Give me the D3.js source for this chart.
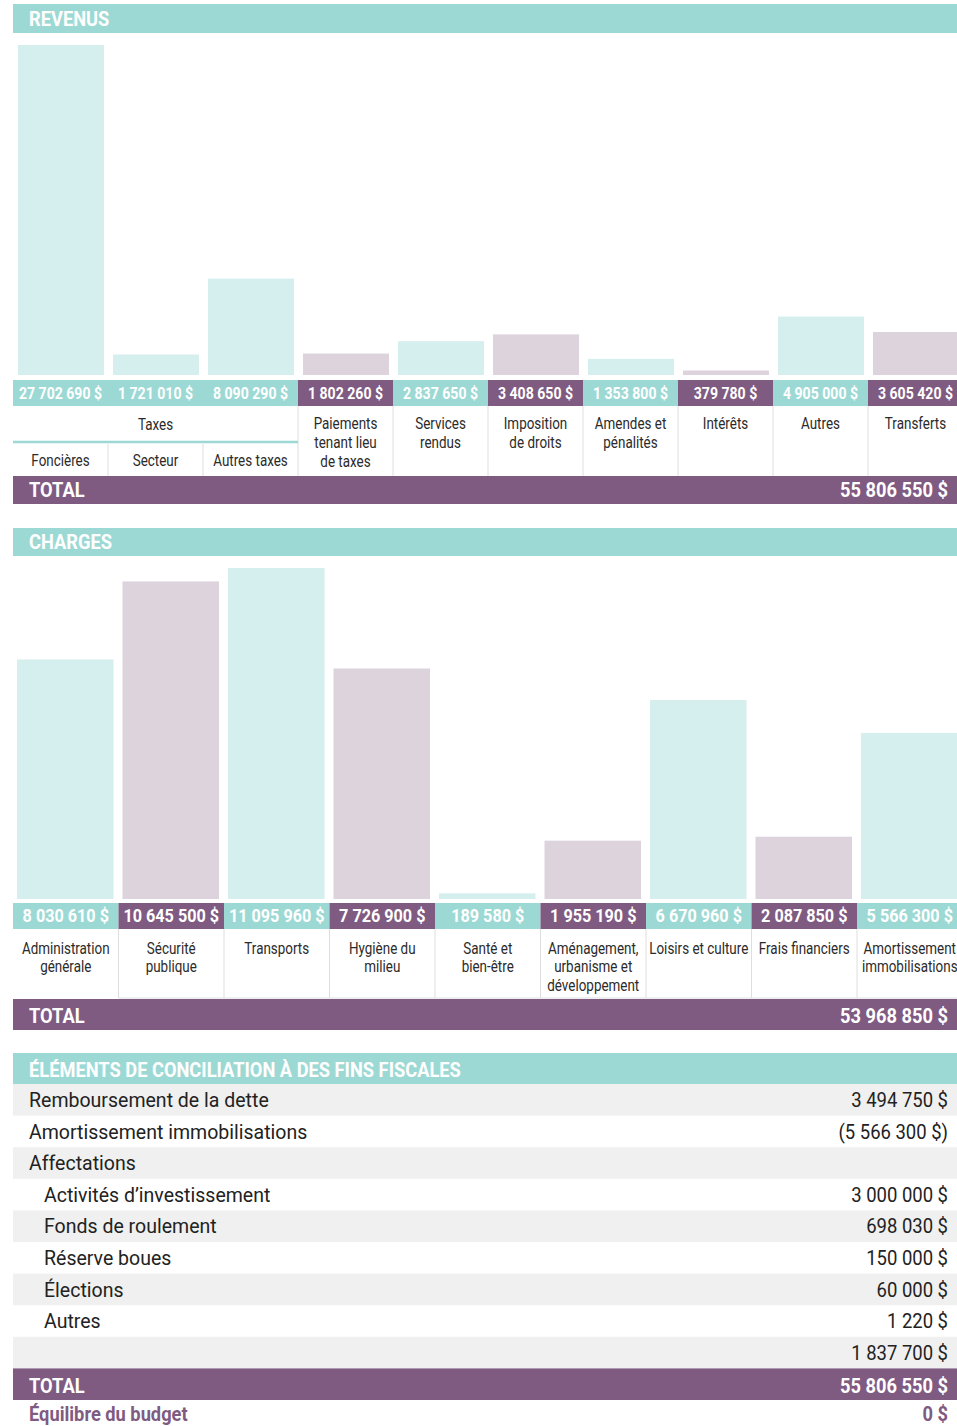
<!DOCTYPE html>
<html>
<head>
<meta charset="utf-8">
<script src="https://cdn.jsdelivr.net/npm/d3@7"></script>
<style>
  body { margin: 0; background: #fff; }
  svg { display: block; font-family: Roboto, "Open Sans", sans-serif; }
</style>
</head>
<body>
<script>
// Revenus
var revLabels = ["Foncières", "Secteur", "Autres taxes", "Paiements\ntenant lieu\nde taxes", "Services\nrendus",
  "Imposition\nde droits", "Amendes et\npénalités", "Intérêts", "Autres", "Transferts"];
var revValues = [27702690, 1721010, 8090290, 1802260, 2837650, 3408650, 1353800, 379780, 4905000, 3605420];
var revColors = ["t", "t", "t", "p", "t", "p", "t", "p", "t", "p"];
var revGroup = "Taxes";
var revTotal = "55 806 550 $";

// Charges
var chLabels = ["Administration\ngénérale", "Sécurité\npublique", "Transports", "Hygiène du\nmilieu", "Santé et\nbien-être",
  "Aménagement,\nurbanisme et\ndéveloppement", "Loisirs et culture", "Frais financiers", "Amortissement\nimmobilisations"];
var chValues = [8030610, 10645500, 11095960, 7726900, 189580, 1955190, 6670960, 2087850, 5566300];
var chColors = ["t", "p", "t", "p", "t", "p", "t", "p", "t"];
var chTotal = "53 968 850 $";

// Conciliation
var concLabels = ["Remboursement de la dette", "Amortissement immobilisations", "Affectations", "Activités d’investissement",
  "Fonds de roulement", "Réserve boues", "Élections", "Autres", ""];
var concValues = ["3 494 750 $", "(5 566 300 $)", "", "3 000 000 $", "698 030 $", "150 000 $", "60 000 $", "1 220 $", "1 837 700 $"];
var concIndent = [0, 0, 0, 1, 1, 1, 1, 1, 0];
var concTotal = "55 806 550 $";
var balanceLabel = "Équilibre du budget";
var balanceValue = "0 $";

var W = 957, H = 1426;
var teal = "#9dd9d4", purple = "#7f5b82", barTeal = "#d5eeee", barPurple = "#dcd3dc", sep = "#dedede";
var fmt = function (v) { return d3.format(",")(v).replace(/,/g, " ") + " $"; };

var svg = d3.select("body").append("svg").attr("width", W).attr("height", H);

// condensed-looking text: horizontally squeezed
function label(g, x, y, str, o) {
  var t = g.append("text")
    .attr("transform", "translate(" + x + "," + y + ") scale(" + (o.sx || 0.84) + ",1)")
    .attr("text-anchor", o.anchor || "start")
    .attr("font-size", o.size || 16)
    .attr("font-weight", o.weight || "normal")
    .attr("fill", o.fill || "#2b2b2b");
  String(str).split("\n").forEach(function (l, i) {
    t.append("tspan").attr("x", 0).attr("dy", i ? (o.lh || 19) : 0).text(l);
  });
  return t;
}

function header(y, h, text) {
  svg.append("rect").attr("x", 13).attr("y", y).attr("width", W - 13).attr("height", h).attr("fill", teal);
  label(svg, 29, y + h - 7, text, { size: 21, weight: "bold", fill: "#fff", sx: 0.87 });
}

function totalBar(y, h, right) {
  svg.append("rect").attr("x", 13).attr("y", y).attr("width", W - 13).attr("height", h).attr("fill", purple);
  label(svg, 29, y + h - 7, "TOTAL", { size: 21, weight: "bold", fill: "#fff", sx: 0.87 });
  label(svg, 948, y + h - 7, right, { size: 21, weight: "bold", fill: "#fff", sx: 0.87, anchor: "end" });
}

function barSection(cfg) {
  var idx = d3.range(cfg.values.length);
  var x = d3.scaleBand().domain(idx).range([13, 13 + cfg.step * idx.length]);
  var y = d3.scaleLinear().domain([0, d3.max(cfg.values)]).range([cfg.base, cfg.top]);
  var g = svg.append("g");

  g.selectAll("rect.bar").data(idx).enter().append("rect")
    .attr("x", function (i) { return x(i) + cfg.inL; })
    .attr("width", x.bandwidth() - cfg.inL - cfg.inR)
    .attr("y", function (i) { return y(cfg.values[i]); })
    .attr("height", function (i) { return cfg.base - y(cfg.values[i]); })
    .attr("fill", function (i) { return cfg.colors[i] === "t" ? barTeal : barPurple; });

  var ly = cfg.base + cfg.gap;
  g.selectAll("rect.lab").data(idx).enter().append("rect")
    .attr("x", function (i) { return x(i); })
    .attr("width", x.bandwidth())
    .attr("y", ly).attr("height", 26)
    .attr("fill", function (i) { return cfg.colors[i] === "t" ? teal : purple; });
  idx.forEach(function (i) {
    label(g, x(i) + x.bandwidth() / 2, ly + 19, fmt(cfg.values[i]),
      { size: cfg.valSize, weight: "bold", fill: "#fff", anchor: "middle", sx: cfg.valSx });
  });

  return { x: x, g: g, ly: ly + 26 };
}

// ---- REVENUS ----
header(4, 29, "REVENUS");
var rev = barSection({ values: revValues, colors: revColors, step: 95, inL: 5, inR: 4, base: 375, top: 45, gap: 5, valSize: 16, valSx: 0.88 });
var rx = rev.x, rg = rev.g, rTop = rev.ly, rBot = 476;
d3.range(3, revLabels.length).forEach(function (i) {
  rg.append("line").attr("x1", rx(i)).attr("x2", rx(i)).attr("y1", rTop).attr("y2", rBot).attr("stroke", sep);
});
[1, 2].forEach(function (i) {
  rg.append("line").attr("x1", rx(i)).attr("x2", rx(i)).attr("y1", 444).attr("y2", rBot).attr("stroke", sep);
});
rg.append("line").attr("x1", 13).attr("x2", rx(3)).attr("y1", 442).attr("y2", 442).attr("stroke", teal).attr("stroke-width", 2.5);
label(rg, (13 + rx(3)) / 2, 430, revGroup, { anchor: "middle" });
revLabels.forEach(function (l, i) {
  var cx = rx(i) + rx.bandwidth() / 2;
  label(rg, cx, i < 3 ? 466 : 429, l, { anchor: "middle" });
});
totalBar(476, 28, revTotal);

// ---- CHARGES ----
header(528, 28, "CHARGES");
var ch = barSection({ values: chValues, colors: chColors, step: 105.5, inL: 4, inR: 5, base: 899, top: 568, gap: 4, valSize: 18, valSx: 0.9 });
var cx_ = ch.x, cg = ch.g;
d3.range(1, chLabels.length).forEach(function (i) {
  cg.append("line").attr("x1", cx_(i)).attr("x2", cx_(i)).attr("y1", ch.ly).attr("y2", 998).attr("stroke", sep);
});
cg.append("line").attr("x1", cx_(1)).attr("x2", W).attr("y1", 998).attr("y2", 998).attr("stroke", sep);
chLabels.forEach(function (l, i) {
  label(cg, cx_(i) + cx_.bandwidth() / 2, 954, l, { anchor: "middle", lh: 18.5 });
});
totalBar(999, 31, chTotal);

// ---- CONCILIATION ----
header(1053, 31, "ÉLÉMENTS DE CONCILIATION À DES FINS FISCALES");
var rowH = 31.6, r0 = 1084;
var ty = d3.scaleLinear().domain([0, 1]).range([r0, r0 + rowH]);
var tg = svg.append("g");
concLabels.forEach(function (l, i) {
  var y0 = ty(i);
  if (i % 2 === 0) tg.append("rect").attr("x", 13).attr("y", y0).attr("width", W - 13).attr("height", rowH).attr("fill", "#eff0ef");
  label(tg, concIndent[i] ? 44 : 29, y0 + 23, l, { size: 21, fill: "#222", sx: 0.93 });
  label(tg, 948, y0 + 23, concValues[i], { size: 21, fill: "#222", sx: 0.88, anchor: "end" });
});
totalBar(ty(concLabels.length), rowH, concTotal);
var by = ty(concLabels.length + 1);
label(svg, 29, by + 21, balanceLabel, { size: 21, weight: "bold", fill: purple, sx: 0.87 });
label(svg, 948, by + 21, balanceValue, { size: 21, weight: "bold", fill: purple, sx: 0.87, anchor: "end" });
</script>
</body>
</html>
